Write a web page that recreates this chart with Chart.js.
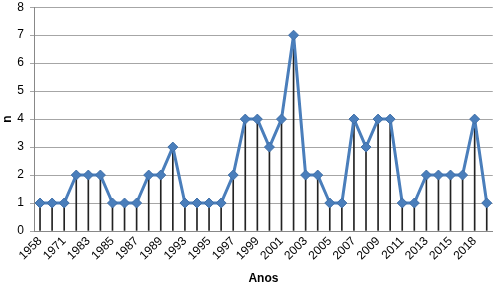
<!DOCTYPE html>
<html><head><meta charset="utf-8">
<script src="https://cdn.jsdelivr.net/npm/chart.js@4"></script>
<style>html,body{margin:0;padding:0;background:#fff;overflow:hidden}#w{position:relative;top:-6px;width:500px;height:292px}</style>
</head><body><div id="w"><canvas id="c"></canvas></div>
<script>
const categories = ["1958","1965","1971","1980","1983","1984","1985","1986","1987","1988","1989","1991","1993","1994","1995","1996","1997","1998","1999","2000","2001","2002","2003","2004","2005","2006","2007","2008","2009","2010","2011","2012","2013","2014","2015","2017","2018","2019"];
const values = [1,1,1,2,2,2,1,1,1,2,2,3,1,1,1,1,2,4,4,3,4,7,2,2,1,1,4,3,4,4,1,1,2,2,2,2,4,1];
const yTicks = [0,1,2,3,4,5,6,7,8];
const xTitle = "Anos";
const yTitle = "n";

const font = {family: "'Liberation Sans', Arial, sans-serif", size: 12};
new Chart(document.getElementById('c'), {
  data: {
    labels: categories,
    datasets: [
      {type: 'line', data: values, borderColor: '#4a7ebb', borderWidth: 3, borderJoinStyle: 'round', backgroundColor: '#4a7ebb',
       pointStyle: 'rectRot', pointRadius: 5, pointBorderWidth: 1, pointBorderColor: '#3f6fa8', tension: 0, order: 1},
      {type: 'bar', data: values, backgroundColor: '#222', barThickness: 1, order: 2}
    ]
  },
  options: {
    responsive: true, maintainAspectRatio: false, animation: false,
    layout: {padding: {top: 0, right: 3, left: 0, bottom: 0}},
    plugins: {legend: {display: false}, tooltip: {enabled: false}},
    scales: {
      x: {
        offset: true,
        grid: {display: false, drawTicks: false},
        border: {display: true, color: '#888', width: 1},
        ticks: {autoSkip: false, maxRotation: 45, minRotation: 45, color: '#000', font: font, padding: 3,
          callback: function(v, i){ return i % 2 === 0 ? categories[i] : ''; }},
        title: {display: true, text: xTitle, color: '#000', font: {family: font.family, size: 12, weight: 'bold'}, padding: {top: 0, bottom: 0}},
        afterFit: s => { s.height = 55; }
      },
      y: {
        min: 0, max: 8,
        afterBuildTicks: s => { s.ticks = yTicks.map(v => ({value: v})); },
        grid: {color: '#a6a6a6', lineWidth: 1, tickLength: 4},
        border: {display: true, color: '#888', width: 1},
        ticks: {color: '#000', font: font, padding: 6},
        title: {display: true, text: yTitle, color: '#000', font: {family: font.family, size: 12, weight: 'bold'}, padding: 0},
        afterFit: s => { s.width = 34; }
      }
    }
  }
});
</script>
</body></html>
